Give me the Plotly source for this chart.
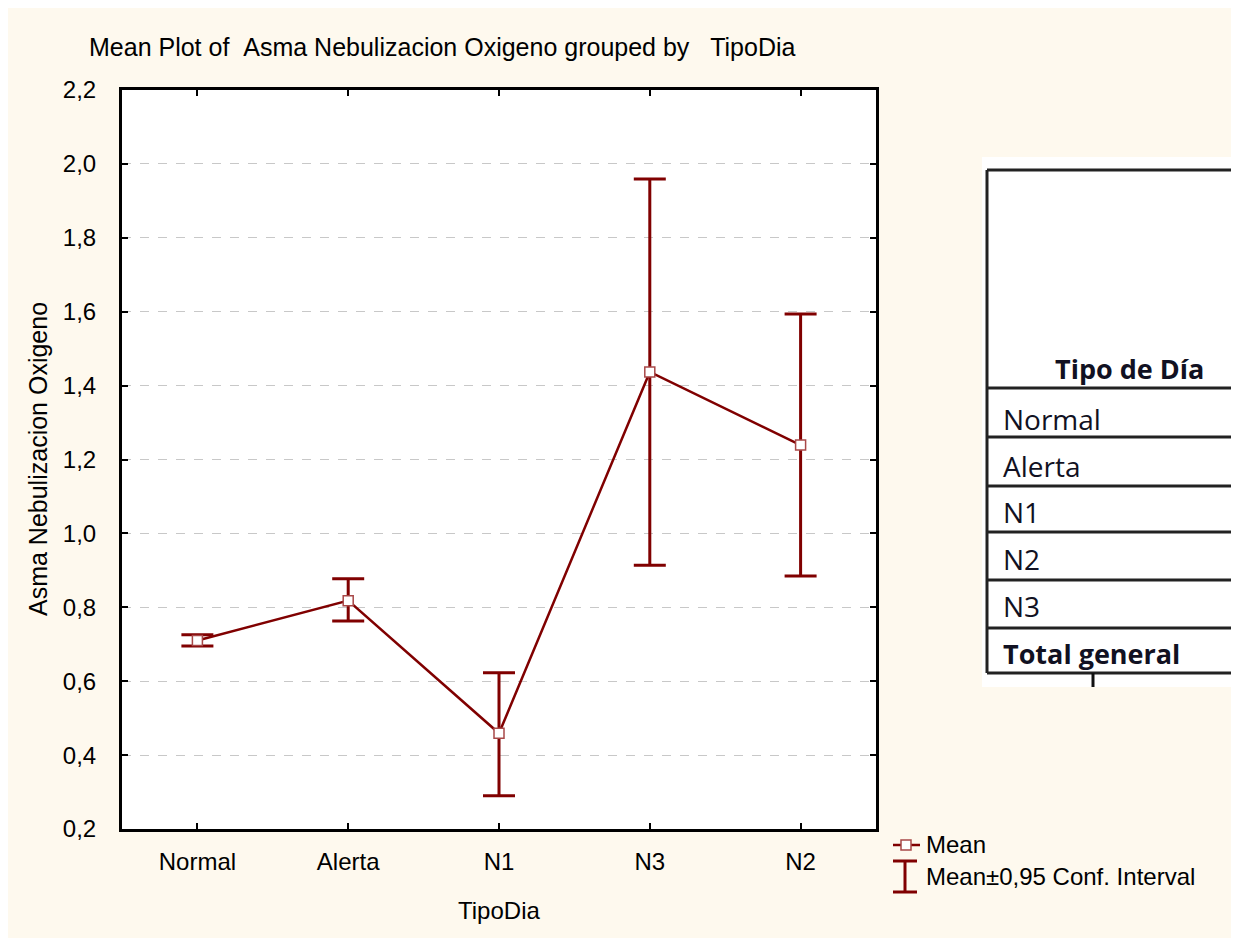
import plotly.graph_objects as go

# ---- data ----
categories = ["Normal", "Alerta", "N1", "N3", "N2"]
means = [0.710, 0.818, 0.459, 1.437, 1.239]
upper = [0.726, 0.877, 0.623, 1.959, 1.594]
lower = [0.695, 0.763, 0.290, 0.914, 0.885]

y_ticks = [0.2, 0.4, 0.6, 0.8, 1.0, 1.2, 1.4, 1.6, 1.8, 2.0, 2.2]

title_text = "Mean Plot of \u00a0Asma Nebulizacion Oxigeno grouped by \u00a0\u00a0TipoDia"
x_title = "TipoDia"
y_title = "Asma Nebulizacion Oxigeno"
legend_labels = ["Mean", "Mean\u00b10,95 Conf. Interval"]

table_header = "Tipo de D\u00eda"
table_rows = ["Normal", "Alerta", "N1", "N2", "N3", "Total general"]

# ---- geometry (screen pixels; page body adds an 8px offset) ----
OFF = 8
SW, SH = 1239, 938
W, H = SW - OFF, SH - OFF
# plot area in screen pixels
SL, SR, ST, SB = 122, 876, 90, 829
L, R, T, B = SL - OFF, SR - OFF, ST - OFF, SB - OFF
PW, PH = R - L, B - T


def px(x):
    return (x - OFF - L) / PW


def py(y):
    return (B - (y - OFF)) / PH


RED = "#800000"
CREAM = "#FEF9EE"
FONT = "Liberation Sans, Arial, sans-serif"
TFONT = "Open Sans, Lato, sans-serif"

err_plus = [u - m for u, m in zip(upper, means)]
err_minus = [m - l for m, l in zip(means, lower)]

fig = go.Figure()
fig.add_trace(go.Scatter(
    x=categories, y=means, mode="lines+markers",
    line=dict(color=RED, width=2.5),
    marker=dict(symbol="square", size=10, color="white",
                line=dict(color="#a84848", width=1.5)),
    error_y=dict(type="data", symmetric=False, array=err_plus,
                 arrayminus=err_minus, color=RED, thickness=3, width=16),
    showlegend=False,
))

shapes = []
annotations = []

# ---- table (pasted) ----
shapes.append(dict(type="rect", xref="paper", yref="paper",
                   x0=px(982), x1=px(SW + 5), y0=py(157), y1=py(687),
                   fillcolor="white", line=dict(width=0), layer="below"))
line_style = dict(color="#222222", width=3)
shapes.append(dict(type="line", xref="paper", yref="paper",
                   x0=px(987), x1=px(987), y0=py(170), y1=py(673), line=line_style))
for yy in [170, 388, 437, 486, 532, 580, 628, 673]:
    shapes.append(dict(type="line", xref="paper", yref="paper",
                       x0=px(987), x1=px(SW + 5), y0=py(yy), y1=py(yy), line=line_style))
shapes.append(dict(type="line", xref="paper", yref="paper",
                   x0=px(1093), x1=px(1093), y0=py(673), y1=py(687),
                   line=dict(color="#111111", width=3)))

annotations.append(dict(text=table_header, xref="paper", yref="paper",
                        x=px(1129), y=py(368), xanchor="center", yanchor="middle",
                        showarrow=False,
                        font=dict(family=TFONT, size=27, color="#111122", weight="bold")))
row_centers = [419, 466, 512, 559, 606, 653]
for lab, yc in zip(table_rows, row_centers):
    bold = lab == "Total general"
    annotations.append(dict(text=lab, xref="paper", yref="paper",
                            x=px(1001), y=py(yc), xanchor="left", yanchor="middle",
                            showarrow=False,
                            font=dict(family=TFONT, size=27 if bold else 28,
                                      color="#111122",
                                      weight="bold" if bold else "normal")))

# ---- legend (manual) ----
shapes.append(dict(type="line", xref="paper", yref="paper",
                   x0=px(893), x1=px(920), y0=py(845), y1=py(845),
                   line=dict(color=RED, width=2.5)))
shapes.append(dict(type="rect", xref="paper", yref="paper",
                   x0=px(901), x1=px(911), y0=py(840), y1=py(850),
                   fillcolor="white", line=dict(color="#a84848", width=1.5)))
shapes.append(dict(type="line", xref="paper", yref="paper",
                   x0=px(905), x1=px(905), y0=py(861), y1=py(892),
                   line=dict(color=RED, width=3)))
for yy in [861, 892]:
    shapes.append(dict(type="line", xref="paper", yref="paper",
                       x0=px(893), x1=px(917), y0=py(yy), y1=py(yy),
                       line=dict(color=RED, width=3)))
annotations.append(dict(text=legend_labels[0], xref="paper", yref="paper",
                        x=px(924), y=py(845), xanchor="left", yanchor="middle",
                        showarrow=False, font=dict(family=FONT, size=24, color="black")))
annotations.append(dict(text=legend_labels[1], xref="paper", yref="paper",
                        x=px(924), y=py(876), xanchor="left", yanchor="middle",
                        showarrow=False, font=dict(family=FONT, size=24, color="black")))

# ---- titles ----
annotations.append(dict(text=title_text, xref="paper", yref="paper",
                        x=px(87), y=py(47), xanchor="left", yanchor="middle",
                        showarrow=False, font=dict(family=FONT, size=25, color="black")))
annotations.append(dict(text=x_title, xref="paper", yref="paper",
                        x=px(499), y=py(911), xanchor="center", yanchor="middle",
                        showarrow=False, font=dict(family=FONT, size=24, color="black")))
annotations.append(dict(text=y_title, xref="paper", yref="paper",
                        x=px(38), y=py(459), xanchor="center", yanchor="middle",
                        textangle=-90,
                        showarrow=False, font=dict(family=FONT, size=25, color="black")))

fig.update_layout(
    width=W, height=H,
    margin=dict(l=L, r=W - R, t=T, b=H - B, pad=0, autoexpand=False),
    paper_bgcolor=CREAM,
    plot_bgcolor="white",
    separators=",.",
    font=dict(family=FONT, size=24, color="black"),
    shapes=shapes,
    annotations=annotations,
    showlegend=False,
)
fig.update_xaxes(
    type="category", range=[-0.5, 4.5],
    showline=True, linecolor="black", linewidth=3, mirror="ticks",
    ticks="inside", ticklen=6, tickwidth=2, tickcolor="black",
    showgrid=False, zeroline=False,
    tickfont=dict(family=FONT, size=24, color="black"),
    ticklabelstandoff=9,
)
fig.update_yaxes(
    range=[0.2, 2.2], tickvals=y_ticks, tickformat=".1f",
    showline=True, linecolor="black", linewidth=3, mirror="ticks",
    ticks="inside", ticklen=6, tickwidth=2, tickcolor="black",
    showgrid=True, gridcolor="#C8C8C8", griddash="dash", gridwidth=1,
    zeroline=False,
    tickfont=dict(family=FONT, size=24, color="black"),
    ticklabelstandoff=18,
)

fig.write_html("out.html")
